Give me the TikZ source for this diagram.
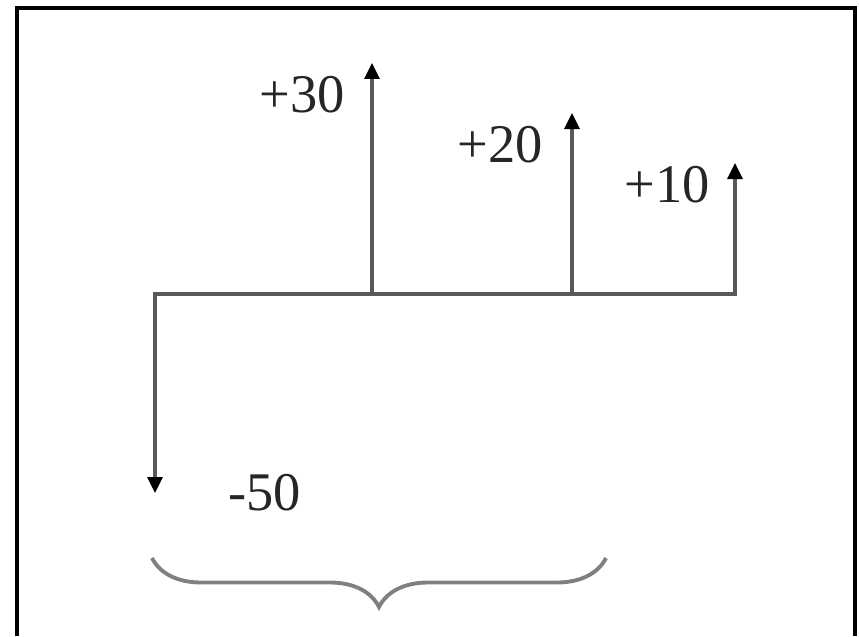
\documentclass[tikz,border=0pt]{standalone}
\usepackage{fontspec}
\setmainfont{Liberation Serif}
\usepackage{tikz}
\usetikzlibrary{positioning}
\usetikzlibrary{arrows,arrows.meta,decorations.pathreplacing}

\begin{document}
\begin{tikzpicture}[x=0.02cm,y=-0.02cm,
  flow/.style={line width=1.8pt,draw=black!65,-{Triangle[length=0.32cm,width=0.3cm,black]}},
  amount/.style={inner sep=0pt,anchor=base west,text=black!85,font=\fontsize{31}{36}\selectfont}]
\useasboundingbox (0,0) rectangle (859,636);
% frame (open at the bottom)
\draw[line width=2pt] (17,636) -- (17,8) -- (855,8) -- (855,636);
% time line
\coordinate (t0) at (155,294);
\coordinate (t1) at (372,294);
\coordinate (t2) at (572,294);
\coordinate (t3) at (735,294);
\coordinate (c0) at (155,493);
\coordinate (c1) at (372,63);
\coordinate (c2) at (572,113);
\coordinate (c3) at (735,163);
\draw[line width=1.8pt,draw=black!65,line cap=rect] (t0) -- (t3);
% cash flows
\draw[flow] (t0) -- (c0);
\draw[flow] (t1) -- (c1);
\draw[flow] (t2) -- (c2);
\draw[flow] (t3) -- (c3);
\node[amount] at (259,112) (l30) {+30};
\node[amount] at (457,162) (l20) {+20};
\node[amount] at (624,202) (l10) {+10};
\node[amount] at (228,510) (l50) {-50};
% brace under the flows
\coordinate (b0) at (152,558);
\coordinate (b1) at (606,558);
\draw[line width=2.2pt,draw=black!50,decorate,decoration={brace,mirror,amplitude=0.98cm}] (b0) -- (b1);
\end{tikzpicture}
\end{document}
